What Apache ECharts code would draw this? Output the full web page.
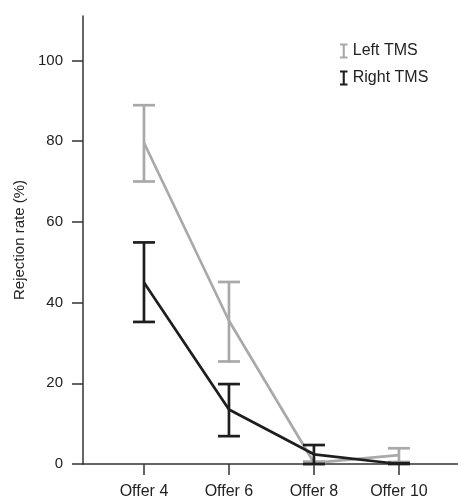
<!DOCTYPE html>
<html>
<head>
<meta charset="utf-8">
<script src="https://cdn.jsdelivr.net/npm/echarts@6/dist/echarts.min.js"></script>
<style>
  html, body { margin: 0; padding: 0; background: #fff; }
  #chart { width: 458px; height: 500px; }
</style>
</head>
<body>
<div id="chart"></div>
<script>
// offers (x positions) and their labels
var offers = [4, 6, 8, 10];
var categories = ['Offer 4', 'Offer 6', 'Offer 8', 'Offer 10'];
var yTicks = [0, 20, 40, 60, 80, 100];

// Left TMS
var leftMean = [79.6, 35.5, 0.3, 2.2];
var leftLow = [70.0, 25.4, 0, 0.5];
var leftHigh = [88.9, 45.1, 0.6, 3.9];

// Right TMS
var rightMean = [45.0, 13.5, 2.4, 0];
var rightLow = [35.2, 6.9, 0, 0];
var rightHigh = [54.9, 19.8, 4.7, 0.2];

var GREY = '#a9a9a9';
var DARK = '#1e1e1e';

function pairs(vals) {
  return offers.map(function (x, i) { return [x, vals[i]]; });
}

function errData(low, high) {
  return offers.map(function (x, i) { return [x, low[i], high[i]]; });
}

function errorSeries(name, low, high, color) {
  return {
    name: name,
    type: 'custom',
    z: 3,
    data: errData(low, high),
    renderItem: function (params, api) {
      var lo = api.coord([api.value(0), api.value(1)]);
      var hi = api.coord([api.value(0), api.value(2)]);
      var half = 11;
      var style = { stroke: color, lineWidth: 2.7, fill: null };
      return {
        type: 'group',
        children: [
          { type: 'line', shape: { x1: lo[0], y1: lo[1], x2: hi[0], y2: hi[1] }, style: style },
          { type: 'line', shape: { x1: hi[0] - half, y1: hi[1], x2: hi[0] + half, y2: hi[1] }, style: style },
          { type: 'line', shape: { x1: lo[0] - half, y1: lo[1], x2: lo[0] + half, y2: lo[1] }, style: style }
        ]
      };
    }
  };
}

var ibeam = 'path://M0,0H10V2.6H6.4V17.4H10V20H0V17.4H3.6V2.6H0Z';

var chart = echarts.init(document.getElementById('chart'));
chart.setOption({
  animation: false,
  textStyle: { fontFamily: 'Liberation Sans, Arial, sans-serif' },
  grid: { left: 83, right: 0, top: 16, bottom: 35 },
  legend: {
    left: 335,
    top: 38,
    orient: 'vertical',
    itemGap: 11,
    itemWidth: 8,
    itemHeight: 15,
    textStyle: { fontSize: 16, color: '#222' },
    data: [
      { name: 'Left TMS', icon: ibeam, itemStyle: { color: GREY } },
      { name: 'Right TMS', icon: ibeam, itemStyle: { color: DARK } }
    ]
  },
  xAxis: {
    type: 'value',
    min: 2.565,
    max: 11.39,
    splitLine: { show: false },
    axisLine: { lineStyle: { color: '#333', width: 1.5 } },
    axisTick: { show: true, length: 11, lineStyle: { color: '#333', width: 1.5 }, customValues: offers },
    axisLabel: {
      customValues: offers,
      margin: 20,
      fontSize: 16,
      color: '#222',
      formatter: function (v) { return categories[offers.indexOf(v)]; }
    }
  },
  yAxis: {
    type: 'value',
    min: 0,
    max: 111,
    splitLine: { show: false },
    name: 'Rejection rate (%)',
    nameLocation: 'middle',
    nameGap: 56,
    nameTextStyle: { fontSize: 15, color: '#222' },
    axisLine: { show: true, lineStyle: { color: '#333', width: 1.5 } },
    axisTick: { show: true, length: 11, lineStyle: { color: '#333', width: 1.5 }, customValues: yTicks },
    axisLabel: { customValues: yTicks, margin: 20, fontSize: 15, color: '#222' }
  },
  series: [
    {
      name: 'Left TMS',
      type: 'line',
      data: pairs(leftMean),
      showSymbol: false,
      z: 2,
      lineStyle: { color: GREY, width: 2.7 },
      itemStyle: { color: GREY }
    },
    errorSeries('Left TMS', leftLow, leftHigh, GREY),
    {
      name: 'Right TMS',
      type: 'line',
      data: pairs(rightMean),
      showSymbol: false,
      z: 4,
      lineStyle: { color: DARK, width: 2.7 },
      itemStyle: { color: DARK }
    },
    Object.assign(errorSeries('Right TMS', rightLow, rightHigh, DARK), { z: 5 })
  ]
});
</script>
</body>
</html>
